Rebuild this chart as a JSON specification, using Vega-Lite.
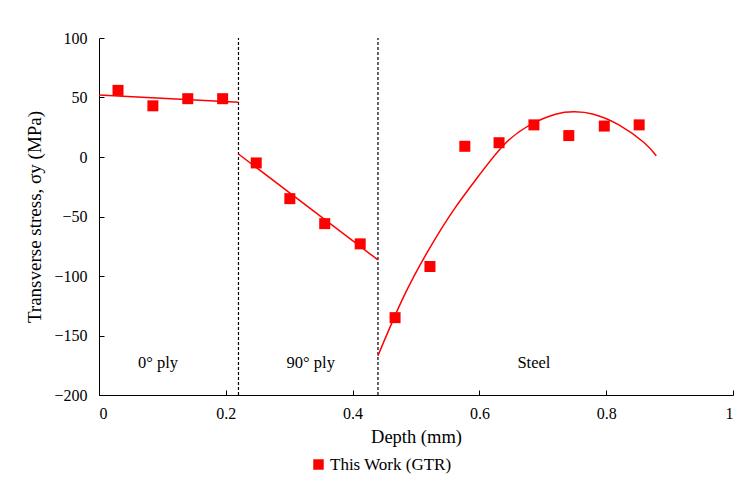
{
  "$schema": "https://vega.github.io/schema/vega-lite/v6.json",
  "width": 634,
  "height": 357,
  "autosize": {"type": "none"},
  "padding": {"left": 99, "top": 38, "right": 9, "bottom": 97},
  "background": "white",
  "config": {
    "font": "Liberation Serif",
    "view": {"stroke": null},
    "text": {"font": "Liberation Serif"},
    "axis": {
      "grid": false,
      "domainColor": "#000000",
      "tickColor": "#000000",
      "labelColor": "#000000",
      "titleColor": "#000000",
      "labelFont": "Liberation Serif",
      "titleFont": "Liberation Serif",
      "labelFontSize": 16,
      "titleFontSize": 19,
      "titleFontWeight": "normal"
    },
    "legend": {
      "labelFont": "Liberation Serif",
      "labelFontSize": 17,
      "labelColor": "#000000"
    }
  },
  "datasets": {
    "points": [
      {"depth": 0.03, "stress": 56, "series": "This Work (GTR)"},
      {"depth": 0.085, "stress": 43, "series": "This Work (GTR)"},
      {"depth": 0.14, "stress": 49, "series": "This Work (GTR)"},
      {"depth": 0.195, "stress": 49, "series": "This Work (GTR)"},
      {"depth": 0.248, "stress": -5, "series": "This Work (GTR)"},
      {"depth": 0.301, "stress": -35, "series": "This Work (GTR)"},
      {"depth": 0.356, "stress": -56, "series": "This Work (GTR)"},
      {"depth": 0.412, "stress": -73, "series": "This Work (GTR)"},
      {"depth": 0.467, "stress": -135, "series": "This Work (GTR)"},
      {"depth": 0.522, "stress": -92, "series": "This Work (GTR)"},
      {"depth": 0.577, "stress": 9, "series": "This Work (GTR)"},
      {"depth": 0.631, "stress": 12, "series": "This Work (GTR)"},
      {"depth": 0.686, "stress": 27, "series": "This Work (GTR)"},
      {"depth": 0.741, "stress": 18, "series": "This Work (GTR)"},
      {"depth": 0.797, "stress": 26, "series": "This Work (GTR)"},
      {"depth": 0.852, "stress": 27, "series": "This Work (GTR)"}
    ],
    "fits": [
      {"seg": "a", "depth": 0, "stress": 52},
      {"seg": "a", "depth": 0.22, "stress": 46},
      {"seg": "b", "depth": 0.22, "stress": 2.5},
      {"seg": "b", "depth": 0.44, "stress": -86.5},
      {"seg": "c", "depth": 0.44, "stress": -167},
      {"seg": "c", "depth": 0.48, "stress": -118},
      {"seg": "c", "depth": 0.52, "stress": -78},
      {"seg": "c", "depth": 0.56, "stress": -44},
      {"seg": "c", "depth": 0.6, "stress": -15},
      {"seg": "c", "depth": 0.64, "stress": 11},
      {"seg": "c", "depth": 0.68, "stress": 27},
      {"seg": "c", "depth": 0.72, "stress": 36},
      {"seg": "c", "depth": 0.75, "stress": 38},
      {"seg": "c", "depth": 0.78, "stress": 36},
      {"seg": "c", "depth": 0.82, "stress": 27},
      {"seg": "c", "depth": 0.86, "stress": 12},
      {"seg": "c", "depth": 0.879, "stress": 1}
    ],
    "bounds": [
      {"depth": 0.22, "lo": -200, "hi": 100},
      {"depth": 0.44, "lo": -200, "hi": 100}
    ],
    "labels": [
      {"depth": 0.093, "stress": -173, "text": "0° ply"},
      {"depth": 0.334, "stress": -173, "text": "90° ply"},
      {"depth": 0.686, "stress": -173, "text": "Steel"}
    ]
  },
  "layer": [
    {
      "data": {"name": "bounds"},
      "mark": {"type": "rule", "color": "#000000", "strokeWidth": 1.2, "strokeDash": [3, 2]},
      "encoding": {
        "x": {"field": "depth", "type": "quantitative"},
        "y": {"field": "lo", "type": "quantitative"},
        "y2": {"field": "hi"}
      }
    },
    {
      "data": {"name": "fits"},
      "mark": {"type": "line", "color": "#FF0000", "strokeWidth": 1.5, "interpolate": "natural"},
      "encoding": {
        "x": {"field": "depth", "type": "quantitative"},
        "y": {"field": "stress", "type": "quantitative"},
        "detail": {"field": "seg"}
      }
    },
    {
      "data": {"name": "points"},
      "mark": {"type": "point", "shape": "square", "filled": true, "size": 121, "opacity": 1},
      "encoding": {
        "x": {
          "field": "depth", "type": "quantitative",
          "scale": {"domain": [0, 1], "nice": false, "zero": false},
          "axis": {"title": "Depth (mm)", "titleFontSize": 18.5, "values": [0, 0.2, 0.4, 0.6, 0.8, 1], "format": "~g", "tickSize": -5, "labelPadding": 15, "titlePadding": 6}
        },
        "y": {
          "field": "stress", "type": "quantitative",
          "scale": {"domain": [-200, 100], "nice": false},
          "axis": {"title": "Transverse stress, σy (MPa)", "values": [-200, -150, -100, -50, 0, 50, 100], "tickSize": -5, "labelPadding": 17, "titlePadding": 9}
        },
        "color": {
          "field": "series", "type": "nominal",
          "scale": {"domain": ["This Work (GTR)"], "range": ["#FF0000"]},
          "legend": {"title": null, "orient": "none", "legendX": 211, "legendY": 418, "symbolType": "square", "symbolSize": 110, "labelOffset": 3, "labelFontSize": 17, "labelFont": "Liberation Serif"}
        }
      }
    },
    {
      "data": {"name": "labels"},
      "mark": {"type": "text", "font": "Liberation Serif", "fontSize": 16.5, "color": "#000000"},
      "encoding": {
        "x": {"field": "depth", "type": "quantitative"},
        "y": {"field": "stress", "type": "quantitative"},
        "text": {"field": "text"}
      }
    }
  ]
}
